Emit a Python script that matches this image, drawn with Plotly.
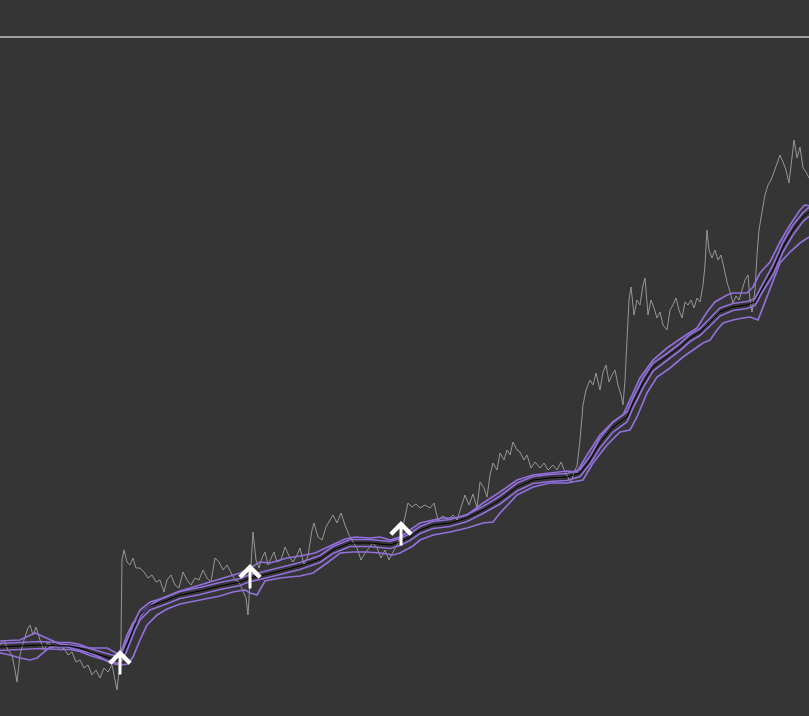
import plotly.graph_objects as go

# ---- price series (time index, price) ----
price_x = [0,4,8,12,15,17,20,24,28,30,33,36,40,44,48,52,56,60,64,68,72,76,80,84,88,92,96,100,104,108,112,115,117,119,121,122,124,127,130,133,136,140,144,148,152,156,160,164,167,171,175,179,183,187,191,195,199,203,207,211,215,219,223,227,231,235,239,243,246,248,250,253,256,259,262,265,268,271,274,277,281,285,289,293,297,300,304,308,312,314,318,322,326,330,333,337,341,345,349,353,357,361,365,369,373,377,381,385,389,393,397,401,405,408,412,416,420,425,430,434,438,443,448,453,457,461,465,469,473,477,480,484,487,490,493,497,500,504,507,510,513,517,520,524,527,531,535,540,544,548,553,557,561,565,568,571,574,577,580,583,586,590,593,596,600,603,606,609,612,615,618,621,623,625,627,629,631,634,637,640,643,645,648,651,654,657,660,663,667,670,673,676,679,682,685,688,691,694,697,700,703,705,707,709,712,715,718,721,724,727,730,733,736,739,742,745,748,750,752,755,757,759,762,765,768,771,774,777,780,783,786,789,792,794,797,800,803,806,809]
price_y = [71,76,66,61,46,34,61,76,88,91,81,89,76,66,74,68,71,66,68,61,64,54,56,48,51,41,46,38,48,44,51,38,26,44,76,156,166,154,151,158,148,148,144,138,141,134,136,124,136,141,131,128,144,136,131,138,136,146,138,134,158,154,146,151,144,136,134,124,118,101,131,184,156,148,158,164,151,158,164,154,156,169,160,154,161,168,151,160,186,193,179,176,189,196,201,193,203,191,181,174,168,156,163,168,173,168,158,166,156,164,171,181,201,213,209,212,208,211,208,213,196,200,196,201,196,209,221,211,222,208,234,228,219,241,253,246,263,256,266,261,274,266,264,256,261,248,254,248,253,246,251,246,254,244,238,233,244,250,276,311,326,336,331,343,326,344,351,334,341,346,331,321,311,336,376,416,429,401,416,411,431,438,401,416,408,398,404,391,386,406,411,418,406,398,414,411,416,408,418,414,431,451,486,466,458,466,456,461,448,434,424,413,420,416,426,436,441,416,404,426,461,486,504,521,531,536,544,553,561,554,546,533,556,576,558,569,548,544,538]

# ---- moving average (center line) ----
mid_x = [0,20,40,60,70,80,90,100,110,120,125,130,135,140,150,165,180,200,220,240,250,260,280,300,320,333,350,370,390,400,410,420,433,450,467,483,500,517,533,550,567,580,590,600,613,627,633,643,653,667,680,690,700,710,720,733,747,755,763,773,783,793,803,809]
mid_y = [69,70,71,70,70,68,64,61,58,56,66,78,91,101,110,115,121,125,130,134,138,140,145,150,157,166,173,173,171,174,179,186,191,193,198,206,216,229,236,238,239,243,256,273,289,299,313,333,349,359,369,378,384,394,404,409,411,414,429,446,469,486,499,504]
inner_width = [3.5,3.5,3.5,3.5,3.5,3.5,3.5,3.5,3.5,3.5,5,5,5,5,4,3.5,3.5,3.5,3.5,3.5,3.5,3.5,3.5,3.5,3.5,3.5,3.5,3.5,3.5,3.5,3.5,3.5,3.5,3.5,3.5,3.5,4,4,3.5,3.5,3.5,3.5,4,5,5,5,5,5,4,3.5,3.5,3.5,3.5,4,4,3.5,3.5,3.5,4,5,5,5,4.5,4.5]

# ---- outer bands ----
upper_x = [0,20,35,50,60,70,90,107,115,120,127,133,137,145,155,165,180,200,215,230,240,250,260,270,287,300,315,330,345,355,370,380,390,400,410,420,433,443,457,467,483,500,517,533,550,567,577,587,600,613,623,633,640,653,667,683,697,707,715,727,733,747,753,760,770,780,790,800,805,809]
upper_y = [75,76,83,76,72,71,68,68,64,61,81,93,95,106,114,119,125,131,135,140,143,148,154,153,158,160,163,170,177,179,178,179,176,179,186,193,196,198,198,201,213,224,236,241,243,245,244,261,281,294,301,323,338,356,368,379,388,404,414,421,423,423,429,443,454,474,491,506,511,510]
lower_x = [0,10,20,30,37,45,50,67,80,90,100,110,120,128,133,140,147,157,167,180,200,220,233,245,250,257,265,280,300,313,327,340,353,367,380,393,400,413,420,433,450,467,483,493,500,517,533,550,567,583,593,607,620,630,637,647,657,670,683,693,703,710,717,723,733,743,750,758,763,770,780,790,800,809]
lower_y = [63,61,58,56,58,65,69,69,66,63,59,53,51,52,59,76,91,101,107,112,116,120,124,126,123,121,135,138,140,143,153,163,164,164,163,161,163,170,176,181,184,188,193,194,203,221,229,233,233,236,253,271,284,286,299,323,339,348,359,366,373,376,386,393,396,398,399,396,409,429,453,464,473,479]

# ---- buy signals (arrow tip positions) ----
signal_x = [120, 250, 401]
signal_y = [66, 152, 195]

ref_level = 679

BG = "#353535"
PURPLE = "#9370DB"

inner_up = [m + w for m, w in zip(mid_y, inner_width)]
inner_dn = [m - w for m, w in zip(mid_y, inner_width)]

fig = go.Figure()
fig.add_trace(go.Scatter(x=price_x, y=price_y, mode="lines",
                         line=dict(color="#969696", width=1)))
for xs, ys in [(upper_x, upper_y), (lower_x, lower_y), (mid_x, inner_up), (mid_x, inner_dn)]:
    fig.add_trace(go.Scatter(x=xs, y=ys, mode="lines",
                             line=dict(color=PURPLE, width=1.7)))
fig.add_trace(go.Scatter(x=mid_x, y=mid_y, mode="lines",
                         line=dict(color="#000000", width=1)))

for sx, sy in zip(signal_x, signal_y):
    fig.add_annotation(x=sx, y=sy, xref="x", yref="y", text="",
                       showarrow=True, arrowhead=4, arrowsize=1.3, arrowwidth=3,
                       arrowcolor="#ffffff", ax=0, ay=26, standoff=0)

fig.add_shape(type="line", xref="paper", x0=0, x1=1, yref="y", y0=ref_level, y1=ref_level,
              line=dict(color="#c4c4c4", width=1.5))

fig.update_layout(
    width=809, height=716,
    margin=dict(l=0, r=0, t=0, b=0),
    paper_bgcolor=BG, plot_bgcolor=BG,
    showlegend=False,
    xaxis=dict(range=[0, 809], visible=False, showgrid=False, zeroline=False),
    yaxis=dict(range=[0, 716], visible=False, showgrid=False, zeroline=False),
)
fig.write_html("out.html", config={"displayModeBar": False},
               post_script="document.body.style.margin='0';document.body.style.background='#353535';"
                           "document.documentElement.style.background='#353535';")
